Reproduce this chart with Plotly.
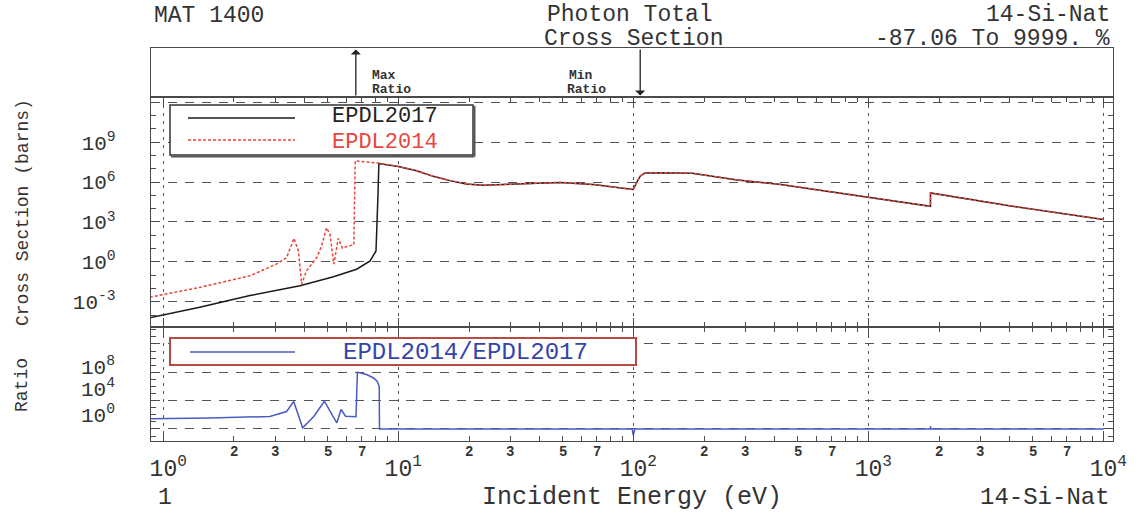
import math
import plotly.graph_objects as go

# ---------------- data ----------------
# EPDL2014 below the common region (energy eV, cross section barns)
e14_low = [0.877, 1.43, 2.34, 3.03, 3.35, 3.60, 3.76, 3.88, 4.07, 4.50, 4.72, 4.95,
           5.12, 5.32, 5.56, 5.79, 6.12, 6.47, 6.56, 7.10, 8.17]
s14_low = [2.19e-3, 1.20e-2, 8.9e-2, 0.68, 2.1, 59, 6.6, 2.1e-2, 0.21, 2.1, 16, 370,
           120, 0.68, 59, 10.5, 16, 19, 4.0e7, 3.5e7, 2.7e7]
# EPDL2017 below the common region
e17_low = [0.877, 1.43, 2.34, 3.82, 5.30, 6.65, 7.59, 8.04, 8.20, 8.27]
s17_low = [6.2e-5, 3.9e-4, 2.9e-3, 1.6e-2, 7.6e-2, 0.28, 1.17, 6.6, 1.15e5, 2.5e7]
# region where both evaluations coincide
e_common = [10.0, 11.97, 14.1, 16.6, 19.5, 23.0, 31.9, 44.3, 48.8, 67.6, 98.4, 99.9,
            104.0, 107.4, 112.2, 135, 178, 277, 416, 644, 989, 1838, 1839, 4102, 10000]
s_common = [1.5e7, 7.2e6, 2.7e6, 1.29e6, 7.2e5, 5.8e5, 7.2e5, 8.7e5, 9.5e5, 6.5e5, 3.1e5,
            2.75e5, 1.15e6, 3.0e6, 4.9e6, 5.1e6, 4.6e6, 1.45e6, 6.9e5, 2.24e5, 7.1e4,
            1.51e4, 1.51e5, 1.51e4, 1.55e3]

# ratio EPDL2014/EPDL2017
e_ratio = [0.877, 1.58, 2.84, 3.35, 3.59, 3.92, 4.38, 4.85, 5.27, 5.48, 5.71, 5.97, 6.61,
           6.70, 7.33, 7.85, 8.13, 8.30, 8.32, 99.0, 99.9, 101.5, 1838, 1839.5, 1842, 10000]
ratio = [27.5, 35, 58, 290, 7.8e3, 1.48, 63, 8.3e3, 63, 7.4, 560, 63, 52,
         1e8, 4.8e7, 1.6e7, 5.4e6, 1e6, 1, 1, 0.13, 1, 1, 2.5, 1, 1]

max_ratio_energy = 6.6
min_ratio_energy = 107.0

x_major = [1, 10, 100, 1000, 10000]
x_major_text = ["10<sup>0</sup>", "10<sup>1</sup>", "10<sup>2</sup>", "10<sup>3</sup>", "10<sup>4</sup>"]
x_minor_labels = ["2", "3", "5", "7"]
x_minor_label_vals = [2, 3, 5, 7]
cs_ticks = [1e-3, 1, 1e3, 1e6, 1e9, 1e12]
cs_ticktext = ["10<sup>-3</sup>", "10<sup>0</sup>", "10<sup>3</sup>", "10<sup>6</sup>", "10<sup>9</sup>", ""]
ratio_ticks = [1, 1e4, 1e8, 1e12]
ratio_labels = ["10<sup>8</sup>", "10<sup>4</sup>", "10<sup>0</sup>"]

E14 = e14_low + e_common
S14 = s14_low + s_common
E17 = e17_low + e_common
S17 = s17_low + s_common

# ---------------- layout helpers ----------------
W, H = 1139, 513
L, R, T, B = 151, 1113, 48, 441
def xp(px):
    return (px - L) / (R - L)
def yp(py):
    return (B - py) / (B - T)

FONT = "Liberation Mono"
TXT = "#333333"
AX = "#4a4a4a"
GRID = "#555555"
BLACK = "#1a1a1a"
RED = "#e8453c"
BLUE = "#4a5bc4"
NAVY = "#1c2a9c"

x_minor = [m * d for d in [1, 10, 100, 1000] for m in range(2, 10)]

fig = go.Figure()
fig.add_trace(go.Scatter(x=E17, y=S17, xaxis="x2", yaxis="y2", mode="lines",
                         line=dict(color=BLACK, width=1.5), showlegend=False))
fig.add_trace(go.Scatter(x=E14, y=S14, xaxis="x2", yaxis="y2", mode="lines",
                         line=dict(color=RED, width=1.5, dash="3px,2px"), showlegend=False))
fig.add_trace(go.Scatter(x=e_ratio, y=ratio, xaxis="x", yaxis="y", mode="lines",
                         line=dict(color=BLUE, width=1.5), showlegend=False))

xcommon = dict(type="log", range=[-0.052, 4.041], tickvals=x_major,
               showgrid=True, gridcolor=GRID, griddash="3px,5px", gridwidth=1,
               ticks="inside", ticklen=9, tickwidth=1.1, tickcolor=AX,
               showline=True, linecolor=AX, linewidth=1.2, mirror="ticks",
               minor=dict(tickvals=x_minor, ticks="inside", ticklen=5, tickwidth=1,
                          tickcolor=AX, showgrid=False),
               zeroline=False)

fig.update_layout(
    width=W, height=H,
    margin=dict(l=L, r=W - R, t=T, b=H - B, pad=0),
    paper_bgcolor="white", plot_bgcolor="white",
    showlegend=False,
    font=dict(family=FONT, color=TXT),
    xaxis=dict(**xcommon, anchor="y", domain=[0, 1], ticktext=x_major_text,
               showticklabels=True, tickfont=dict(family=FONT, size=23, color=TXT),
               ticklabelstandoff=6, ticklabelshift=5),
    xaxis2=dict(**xcommon, anchor="y2", domain=[0, 1], matches="x", showticklabels=False),
    xaxis3=dict(type="log", range=[-0.052, 4.041], anchor="y3", domain=[0, 1], matches="x",
                showgrid=False, ticks="", showticklabels=False, showline=True,
                linecolor=AX, linewidth=1.2, mirror=True, zeroline=False),
    yaxis=dict(type="log", domain=[0, yp(327)], range=[-1.7, 14.4], anchor="x",
               tickvals=ratio_ticks, showticklabels=False,
               showgrid=True, gridcolor=GRID, griddash="9px,8px", gridwidth=1,
               ticks="inside", ticklen=8, tickwidth=1.1, tickcolor=AX,
               showline=True, linecolor=AX, linewidth=1.2, mirror="ticks",
               minor=dict(tickvals=[10.0 ** k for k in range(-1, 15)], ticks="inside",
                          ticklen=5, tickcolor=AX, showgrid=False),
               zeroline=False),
    yaxis2=dict(type="log", domain=[yp(327), yp(97)], range=[-4.9, 12.4], anchor="x2",
                tickvals=cs_ticks, ticktext=cs_ticktext, showticklabels=True,
                tickfont=dict(family=FONT, size=21, color=TXT), ticklabelstandoff=30,
                showgrid=True, gridcolor=GRID, griddash="9px,8px", gridwidth=1,
                ticks="inside", ticklen=8, tickwidth=1.1, tickcolor=AX,
                showline=True, linecolor=AX, linewidth=1.2, mirror="ticks",
                minor=dict(tickvals=[10.0 ** k for k in range(-4, 13)], ticks="inside",
                           ticklen=5, tickcolor=AX, showgrid=False),
                zeroline=False),
    yaxis3=dict(domain=[yp(97), 1], range=[0, 1], anchor="x3", showgrid=False,
                ticks="", showticklabels=False, showline=True, linecolor=AX,
                linewidth=1.2, mirror=True, zeroline=False),
)

shapes = []
# ratio = 1 reference line
shapes.append(dict(type="line", xref="paper", yref="y", x0=0, x1=1, y0=0, y1=0,
                   line=dict(color=NAVY, width=2.5), layer="above"))
# main legend box
shapes.append(dict(type="rect", xref="paper", yref="paper", x0=xp(170), x1=xp(473),
                   y0=yp(155), y1=yp(105), line=dict(color="#333", width=1.5),
                   fillcolor="white", layer="above"))
shapes.append(dict(type="line", xref="paper", yref="paper", x0=xp(474.5), x1=xp(474.5),
                   y0=yp(156.5), y1=yp(106), line=dict(color="#555", width=2), layer="above"))
shapes.append(dict(type="line", xref="paper", yref="paper", x0=xp(171), x1=xp(474.5),
                   y0=yp(156.5), y1=yp(156.5), line=dict(color="#555", width=2), layer="above"))
shapes.append(dict(type="line", xref="paper", yref="paper", x0=xp(188), x1=xp(295),
                   y0=yp(118), y1=yp(118), line=dict(color=BLACK, width=1.5), layer="above"))
shapes.append(dict(type="line", xref="paper", yref="paper", x0=xp(188), x1=xp(295),
                   y0=yp(140), y1=yp(140), line=dict(color=RED, width=1.5, dash="3px,2px"),
                   layer="above"))
# ratio legend box
shapes.append(dict(type="rect", xref="paper", yref="paper", x0=xp(170), x1=xp(636),
                   y0=yp(365), y1=yp(338), line=dict(color="#b84a44", width=2),
                   fillcolor="white", layer="above"))
shapes.append(dict(type="line", xref="paper", yref="paper", x0=xp(190), x1=xp(295),
                   y0=yp(352), y1=yp(352), line=dict(color=BLUE, width=1.5), layer="above"))

ann = []
def text(px, py, s, size=24, color=TXT, xanchor="center", angle=0):
    ann.append(dict(xref="paper", yref="paper", x=xp(px), y=yp(py), text=s,
                    showarrow=False, xanchor=xanchor, yanchor="middle", textangle=angle,
                    font=dict(family=FONT, size=size, color=color)))

# header
text(152, 16, "MAT 1400", 23, xanchor="left")
text(630, 15, "Photon Total", 23)
text(633, 39, "Cross Section", 23)
text(1112, 15, "14-Si-Nat", 23, xanchor="right")
text(1112, 39, "-87.06 To 9999. %", 23, xanchor="right")
# footer
text(156, 498, "1", 23, xanchor="left")
text(632, 498, "Incident Energy (eV)", 25)
text(1112, 498, "14-Si-Nat", 24, xanchor="right")
# y titles
text(23, 213, "Cross Section (barns)", 18, angle=-90)
text(22, 385, "Ratio", 18, angle=-90)
# ratio y labels
for lab, py in zip(ratio_labels, [366, 388, 414]):
    text(117, py, lab, 21, xanchor="right")
# legends
text(385, 117, "EPDL2017", 22, color="#222")
text(385, 142, "EPDL2014", 22, color=RED)
text(465, 352, "EPDL2014/EPDL2017", 24, color="#3344aa")
# max / min ratio labels
text(370, 75, "<b>Max</b>", 13, xanchor="left")
text(370, 90, "<b>Ratio</b>", 13, xanchor="left")
text(567, 75, "<b>Min</b>", 13, xanchor="left")
text(565, 90, "<b>Ratio</b>", 13, xanchor="left")

# minor decade labels on the energy axis
for d in [1, 10, 100, 1000]:
    for lab, v in zip(x_minor_labels, x_minor_label_vals):
        ann.append(dict(xref="x", yref="paper", x=math.log10(v * d), y=yp(452),
                        text="<b>" + lab + "</b>", showarrow=False,
                        xanchor="center", yanchor="middle",
                        font=dict(family=FONT, size=14, color=TXT)))

# arrows for max / min ratio
ann.append(dict(xref="x3", yref="y3", axref="x3", ayref="y3",
                x=math.log10(max_ratio_energy), y=0.97, ax=math.log10(max_ratio_energy), ay=0,
                text="", showarrow=True, arrowhead=1, arrowsize=1.3, arrowwidth=1.3,
                arrowcolor="#222"))
ann.append(dict(xref="x3", yref="y3", axref="x3", ayref="y3",
                x=math.log10(min_ratio_energy), y=0.03, ax=math.log10(min_ratio_energy), ay=1,
                text="", showarrow=True, arrowhead=1, arrowsize=1.3, arrowwidth=1.3,
                arrowcolor="#222"))

fig.update_layout(shapes=shapes, annotations=ann)
fig.write_html("out.html", config={"displayModeBar": False},
               post_script="document.body.style.margin='0';document.body.style.overflow='hidden';")
